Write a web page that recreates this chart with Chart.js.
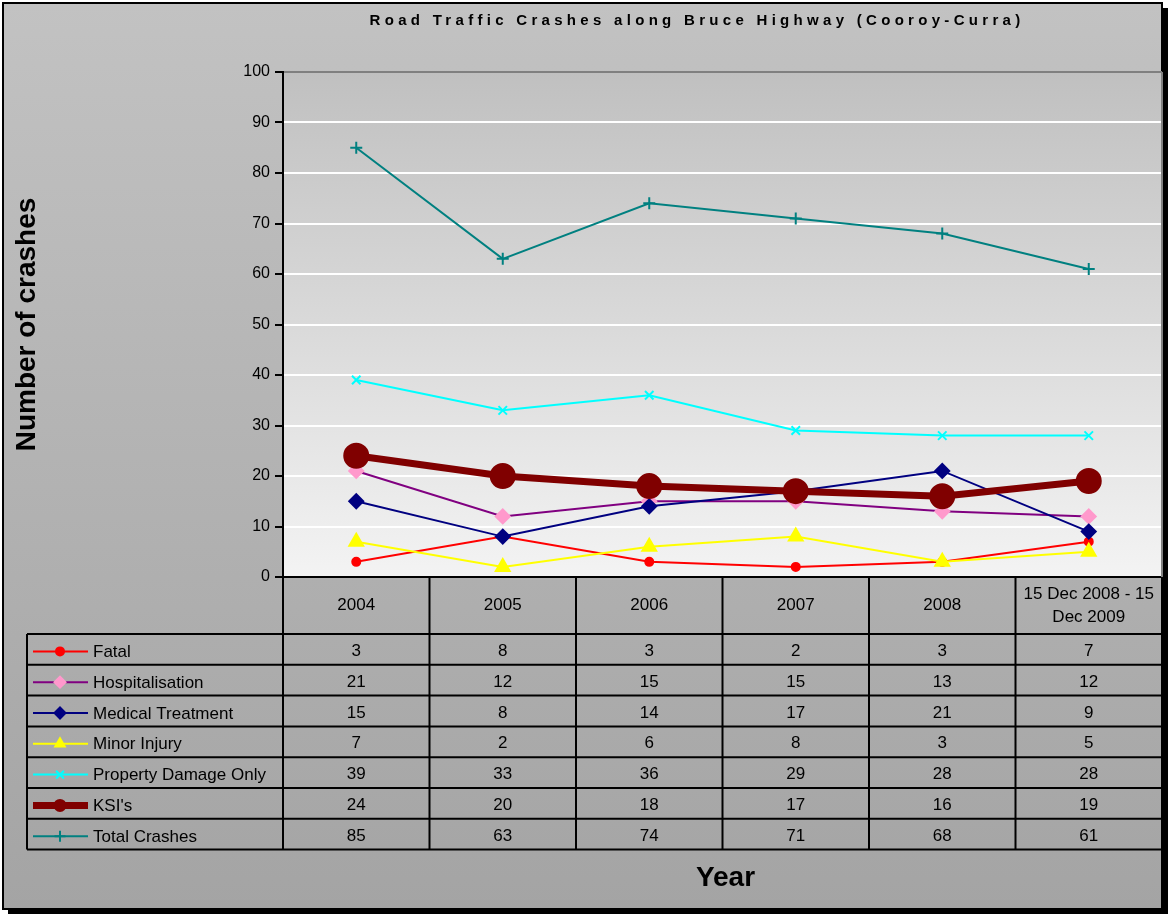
<!DOCTYPE html>
<html>
<head>
<meta charset="utf-8">
<script src="https://cdn.jsdelivr.net/npm/chart.js"></script>
<style>
  html, body { margin: 0; padding: 0; background: #fff; overflow: hidden; }
  #wrap { width: 1168px; height: 914px; position: relative; }
</style>
</head>
<body>
<div id="wrap"><canvas id="myChart"></canvas></div>
<script>
let years = ['2004', '2005', '2006', '2007', '2008', ['15 Dec 2008 - 15', 'Dec 2009']];
let fatal = [3, 8, 3, 2, 3, 7];
let hospitalisation = [21, 12, 15, 15, 13, 12];
let medicalTreatment = [15, 8, 14, 17, 21, 9];
let minorInjury = [7, 2, 6, 8, 3, 5];
let propertyDamage = [39, 33, 36, 29, 28, 28];
let ksis = [24, 20, 18, 17, 16, 19];
let totalCrashes = [85, 63, 74, 71, 68, 61];
let yMin = 0, yMax = 100, yStep = 10;

let FONT = "'Liberation Sans', Arial, sans-serif";

function series(label, data, color, style, radius, fillColor, width) {
    return {
        label: label,
        data: data,
        borderColor: color,
        borderWidth: width || 2,
        pointStyle: style,
        pointRadius: radius,
        pointHoverRadius: radius,
        pointBackgroundColor: fillColor || color,
        pointBorderColor: fillColor || color,
        pointBorderWidth: 2,
        tension: 0,
        fill: false
    };
}

let datasets = [
    series('Fatal', fatal, '#ff0000', 'circle', 4),
    series('Hospitalisation', hospitalisation, '#800080', 'rectRot', 7, '#ff99cc'),
    series('Medical Treatment', medicalTreatment, '#000080', 'rectRot', 7),
    series('Minor Injury', minorInjury, '#ffff00', 'triangle', 8),
    series('Property Damage Only', propertyDamage, '#00ffff', 'crossRot', 6),
    series("KSI's", ksis, '#800000', 'circle', 12, null, 7),
    series('Total Crashes', totalCrashes, '#008080', 'cross', 6)
];
// Excel draws later series on top
datasets.forEach((d, i) => { d.order = datasets.length - i; });

function line(ctx, x1, y1, x2, y2) {
    ctx.beginPath();
    ctx.moveTo(x1, y1);
    ctx.lineTo(x2, y2);
    ctx.stroke();
}

let backdrop = {
    id: 'backdrop',
    beforeDraw(chart) {
        let ctx = chart.ctx, a = chart.chartArea;
        ctx.save();
        ctx.fillStyle = '#000';
        ctx.fillRect(8, 8, 1160, 906);
        let g = ctx.createLinearGradient(0, 3, 0, 910);
        g.addColorStop(0, '#c2c2c2');
        g.addColorStop(1, '#a4a4a4');
        ctx.fillStyle = g;
        ctx.fillRect(3, 3, 1159, 906);
        ctx.strokeStyle = '#000';
        ctx.lineWidth = 2;
        ctx.strokeRect(3, 3, 1159, 906);
        let p = ctx.createLinearGradient(0, a.top, 0, a.bottom);
        p.addColorStop(0, '#c0c0c0');
        p.addColorStop(1, '#f3f3f3');
        ctx.fillStyle = p;
        ctx.fillRect(a.left, a.top, a.right - a.left, a.bottom - a.top);
        ctx.restore();
    },
    afterDraw(chart) {
        let ctx = chart.ctx, a = chart.chartArea, x = chart.scales.x;
        let n = years.length;
        let colW = (a.right - a.left) / n;
        let headBottom = a.bottom + 57;
        let rowH = 30.8;
        let rows = chart.data.datasets.length;
        let tableBottom = headBottom + rowH * rows;
        let legLeft = 27;
        ctx.save();

        // plot right border
        ctx.strokeStyle = '#808080';
        ctx.lineWidth = 2;
        line(ctx, a.right, a.top, a.right, a.bottom);

        // table grid
        ctx.strokeStyle = '#000';
        for (let k = 0; k <= n; k++) {
            let xx = a.left + k * colW;
            line(ctx, xx, a.bottom, xx, tableBottom);
        }
        for (let r = 0; r <= rows; r++) {
            let yy = headBottom + r * rowH;
            line(ctx, legLeft, yy, a.right, yy);
        }
        line(ctx, legLeft, headBottom, legLeft, tableBottom);

        // header labels
        ctx.fillStyle = '#000';
        ctx.font = '17px ' + FONT;
        ctx.textAlign = 'center';
        ctx.textBaseline = 'middle';
        years.forEach((lab, i) => {
            let cx = x.getPixelForValue(i);
            let cy = (a.bottom + headBottom) / 2;
            if (Array.isArray(lab)) {
                ctx.fillText(lab[0], cx, cy - 11);
                ctx.fillText(lab[1], cx, cy + 12);
            } else {
                ctx.fillText(lab, cx, cy);
            }
        });

        // rows: legend key + values
        chart.data.datasets.forEach((ds, r) => {
            let cy = headBottom + r * rowH + rowH / 2 + 2;
            ctx.strokeStyle = ds.borderColor;
            ctx.lineWidth = ds.borderWidth;
            line(ctx, 33, cy, 88, cy);
            ctx.fillStyle = ds.pointBackgroundColor;
            ctx.strokeStyle = ds.pointBorderColor;
            ctx.lineWidth = 2;
            Chart.helpers.drawPoint(ctx, {
                pointStyle: ds.pointStyle,
                radius: Math.min(ds.pointRadius, 5.5),
                rotation: 0,
                borderWidth: 2
            }, 60, cy);

            ctx.fillStyle = '#000';
            ctx.font = '17px ' + FONT;
            ctx.textAlign = 'left';
            ctx.fillText(ds.label, 93, cy + 1);
            ctx.textAlign = 'center';
            ds.data.forEach((v, i) => {
                ctx.fillText(String(v), x.getPixelForValue(i), cy);
            });
        });

        // chart title
        ctx.font = 'bold 15px ' + FONT;
        ctx.letterSpacing = '4.3px';
        ctx.textAlign = 'center';
        ctx.fillText('Road Traffic Crashes along Bruce Highway (Cooroy-Curra)', 697, 21);
        ctx.letterSpacing = '0px';

        // x axis title
        ctx.font = 'bold 28px ' + FONT;
        ctx.fillText('Year', (a.left + a.right) / 2 + 3, 878);
        ctx.restore();
    }
};

let myChart = document.getElementById('myChart').getContext('2d');

let chart = new Chart(myChart, {
    type: 'line',
    data: {
        labels: years,
        datasets: datasets
    },
    plugins: [backdrop],
    options: {
        responsive: true,
        maintainAspectRatio: false,
        animation: false,
        layout: {
            autoPadding: false,
            padding: { top: 72, left: 10, right: 6, bottom: 337 }
        },
        plugins: {
            legend: { display: false },
            title: { display: false },
            tooltip: { enabled: false }
        },
        scales: {
            x: {
                offset: true,
                ticks: { display: false },
                grid: { display: false, drawTicks: false },
                border: { color: '#000', width: 2 },
                afterFit(scale) { scale.height = 0; }
            },
            y: {
                min: yMin,
                max: yMax,
                ticks: {
                    stepSize: yStep,
                    color: '#000',
                    padding: 5,
                    font: { family: FONT, size: 16 }
                },
                grid: {
                    color: (c) => (c.tick && c.tick.value === yMax ? '#808080' : '#ffffff'),
                    lineWidth: 2,
                    tickColor: '#000',
                    tickLength: 8,
                    tickWidth: 2
                },
                border: { color: '#000', width: 2 },
                title: {
                    display: true,
                    text: 'Number of crashes',
                    color: '#000',
                    padding: { top: 0, bottom: 0 },
                    font: { family: FONT, size: 28, weight: 'bold' }
                },
                afterFit(scale) { scale.width = 273; }
            }
        }
    }
});
</script>
</body>
</html>
